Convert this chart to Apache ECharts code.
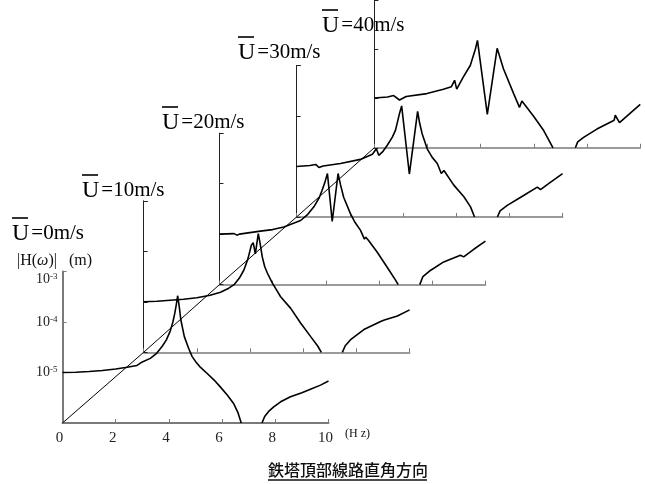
<!DOCTYPE html>
<html><head><meta charset="utf-8">
<script src="https://cdn.jsdelivr.net/npm/echarts@6/dist/echarts.min.js"></script>
<style>html,body{margin:0;padding:0;background:#fff}#c{width:645px;height:484px}</style>
</head><body><div id="c"></div><script>
// ---- data (frequency in Hz, log10 of |H(ω)| in m; '-' = below 10^-6, off the axis) ----
const windSpeeds = ['0m/s', '10m/s', '20m/s', '30m/s', '40m/s'];

const freqU0 = [0, 0.5, 1.0, 1.5, 2.0, 2.43, 2.8, 3.0, 3.3, 3.54, 3.75, 3.9, 4.05, 4.15, 4.22, 4.28, 4.33, 4.39, 4.45, 4.58, 4.74, 4.87, 5.0, 5.19, 5.44, 5.7, 5.94, 6.2, 6.44, 6.6, 6.72, 7.1, 7.5, 7.6, 7.75, 7.94, 8.2, 8.57, 9.0, 9.32, 9.7, 10.0];
const logHU0  = [-5.0, -4.995, -4.98, -4.96, -4.93, -4.895, -4.86, -4.79, -4.72, -4.62, -4.48, -4.36, -4.18, -4.0, -3.83, -3.65, -3.48, -3.7, -3.96, -4.29, -4.52, -4.68, -4.78, -4.9, -5.02, -5.15, -5.29, -5.45, -5.62, -5.8, -6.0, '-', -6.0, -5.87, -5.77, -5.68, -5.58, -5.48, -5.4, -5.33, -5.25, -5.17];

const freqU10 = [0, 0.5, 1.0, 1.5, 2.0, 2.5, 2.89, 3.2, 3.4, 3.6, 3.77, 3.92, 4.05, 4.12, 4.2, 4.31, 4.38, 4.46, 4.55, 4.65, 4.84, 5.0, 5.15, 5.53, 5.9, 6.28, 6.55, 6.68, 7.1, 7.47, 7.58, 7.78, 8.28, 8.91, 9.05, 9.12, 9.54, 10.0];
const logHU10  = [-5.0, -4.99, -4.97, -4.95, -4.92, -4.87, -4.81, -4.73, -4.66, -4.53, -4.37, -4.15, -3.88, -3.83, -4.05, -3.65, -3.85, -4.11, -4.3, -4.43, -4.63, -4.77, -4.9, -5.13, -5.42, -5.69, -5.88, -6.0, '-', -6.0, -5.87, -5.75, -5.55, -5.39, -5.36, -5.39, -5.28, -5.16];

const freqU20 = [0, 0.55, 0.6, 0.66, 0.75, 1.54, 2.0, 2.42, 3.05, 3.3, 3.55, 3.75, 3.86, 3.96, 4.06, 4.24, 4.46, 4.55, 4.67, 4.92, 5.1, 5.3, 5.45, 5.5, 5.6, 5.92, 6.3, 6.62, 6.72, 7.1, 7.53, 7.65, 7.93, 8.43, 9.06, 9.12, 9.18, 9.56, 10.0];
const logHU20  = [-5.0, -4.99, -4.98, -5.02, -5.0, -4.94, -4.91, -4.86, -4.73, -4.62, -4.46, -4.28, -4.13, -3.98, -3.8, -4.75, -3.8, -4.02, -4.27, -4.59, -4.77, -4.92, -5.1, -5.06, -5.12, -5.35, -5.65, -5.91, -6.0, '-', -6.0, -5.84, -5.72, -5.55, -5.42, -5.4, -5.45, -5.3, -5.14];

const freqU30 = [0, 0.5, 0.72, 0.84, 1.0, 1.65, 2.4, 2.85, 3.0, 3.09, 3.25, 3.41, 3.6, 3.72, 3.87, 3.95, 4.24, 4.55, 4.63, 4.72, 4.91, 5.1, 5.29, 5.44, 5.54, 5.91, 6.29, 6.54, 6.69, 7.1, 7.55, 7.65, 7.92, 8.55, 9.05, 9.1, 9.17, 9.5, 10.0];
const logHU30  = [-5.0, -4.98, -4.96, -5.02, -4.99, -4.94, -4.86, -4.76, -4.65, -4.78, -4.7, -4.58, -4.42, -4.28, -3.95, -3.8, -5.15, -3.91, -4.15, -4.35, -4.65, -4.82, -4.94, -5.14, -5.08, -5.37, -5.6, -5.8, -6.0, '-', -6.0, -5.88, -5.77, -5.57, -5.41, -5.38, -5.46, -5.33, -5.14];

const freqU40 = [0, 0.5, 0.73, 0.95, 1.2, 1.98, 2.6, 2.9, 3.02, 3.1, 3.35, 3.61, 3.8, 3.88, 4.25, 4.62, 4.86, 5.24, 5.46, 5.55, 5.99, 6.37, 6.72, 7.1, 7.56, 7.65, 7.87, 8.37, 9.02, 9.06, 9.22, 10.0];
const logHU40  = [-4.99, -4.97, -4.94, -5.03, -4.96, -4.9, -4.81, -4.76, -4.63, -4.81, -4.56, -4.33, -4.0, -3.82, -5.32, -3.98, -4.4, -4.9, -5.18, -5.05, -5.36, -5.65, -6.0, '-', -6.0, -5.88, -5.79, -5.62, -5.44, -5.34, -5.49, -5.12];

const freqSets = [freqU0, freqU10, freqU20, freqU30, freqU40];
const logHSets = [logHU0, logHU10, logHU20, logHU30, logHU40];

// offset of each panel's origin along the diagonal (in Hz and in decades of panel 0's scale)
const panelShiftHz  = [0, 3.05, 5.9, 8.8, 11.72];
const panelShiftDec = [0, 1.40, 2.74, 4.08, 5.45];

const xTickInterval = 2;
const yMin = 1e-6, yMax = 1e-3;

// ---- layout ----
const X0 = 62.5, Y0 = 423, PX_HZ = 26.6, PX_DEC = 50.5;
const PANEL_W = 10 * PX_HZ, PANEL_H = 3 * PX_DEC;
const SERIF = '"Liberation Serif", "DejaVu Serif", serif';
const AXIS_GRAY = '#7a7a7a';

const grids = [], xAxes = [], yAxes = [], series = [];
for (let k = 0; k < 5; k++) {
  const left = X0 + panelShiftHz[k] * PX_HZ;
  const bottom = Y0 - panelShiftDec[k] * PX_DEC;
  grids.push({ left: left, top: bottom - PANEL_H, width: PANEL_W, height: PANEL_H });
  xAxes.push({
    gridIndex: k, type: 'value', min: 0, max: 10, interval: xTickInterval,
    axisLine: { lineStyle: { color: AXIS_GRAY, width: k === 0 ? 2 : 1.6 } },
    axisTick: { inside: true, length: 4, lineStyle: { color: AXIS_GRAY, width: 1 } },
    axisLabel: k === 0 ? { show: true, color: '#222', fontFamily: SERIF, fontSize: 15, margin: 8, padding: [0, 6, 0, 0] } : { show: false },
    splitLine: { show: false }
  });
  yAxes.push({
    gridIndex: k, type: 'log', logBase: 10, min: yMin, max: yMax,
    axisLine: { show: true, lineStyle: { color: k === 0 ? AXIS_GRAY : '#222', width: k === 0 ? 2 : 1 } },
    axisTick: { show: true, inside: true, length: 4, lineStyle: { color: k === 0 ? AXIS_GRAY : '#222', width: 1 } },
    axisLabel: k === 0 ? {
      show: true, margin: 5, fontFamily: SERIF, fontSize: 14, color: '#222',
      formatter: function (v) {
        const e = Math.round(Math.log10(v));
        if (e <= -6) return '';
        if (e === -3) return '{bt|10}{st|' + e + '}';
        return '{b|10}{s|' + e + '}';
      },
      rich: {
        b: { fontFamily: SERIF, fontSize: 14, color: '#222', lineHeight: 14 },
        s: { fontFamily: SERIF, fontSize: 9, color: '#222', verticalAlign: 'top', lineHeight: 9, padding: [0, 0, 6, 0] },
        bt: { fontFamily: SERIF, fontSize: 14, color: '#222', lineHeight: 14, padding: [16, 0, 0, 0] },
        st: { fontFamily: SERIF, fontSize: 9, color: '#222', lineHeight: 9, padding: [10, 0, 0, 0] }
      }
    } : { show: false },
    splitLine: { show: false }
  });
  const data = freqSets[k].map((f, i) => {
    const v = logHSets[k][i];
    return [f, v === '-' ? '-' : Math.pow(10, v)];
  });
  series.push({
    type: 'line', xAxisIndex: k, yAxisIndex: k, data: data,
    showSymbol: false, symbol: 'none', clip: true, connectNulls: false,
    lineStyle: { color: '#000', width: 1.6 }, z: 3
  });
}
// diagonal line joining panel origins
grids.push({ left: X0, top: Y0 - panelShiftDec[4] * PX_DEC, width: panelShiftHz[4] * PX_HZ, height: panelShiftDec[4] * PX_DEC });
xAxes.push({ gridIndex: 5, type: 'value', min: 0, max: panelShiftHz[4], show: false });
yAxes.push({ gridIndex: 5, type: 'value', min: 0, max: panelShiftDec[4], show: false });
series.push({
  type: 'line', xAxisIndex: 5, yAxisIndex: 5,
  data: panelShiftHz.map((h, i) => [h, panelShiftDec[i]]),
  showSymbol: false, symbol: 'none', lineStyle: { color: '#000', width: 1 }, z: 2
});

// ---- text labels ----
const labelPos = [[12, 212], [82, 169], [162, 101], [238, 31], [322, 4]];
const graphics = labelPos.map((p, k) => ({
  type: 'text', left: p[0], top: p[1],
  style: {
    text: '{ov|}\n{t|U}{r|=' + windSpeeds[k] + '}',
    rich: {
      ov: { width: 16, height: 1.6, backgroundColor: '#000', lineHeight: 9 },
      t: { fontFamily: SERIF, fontSize: 24, fill: '#000', lineHeight: 22 },
      r: { fontFamily: SERIF, fontSize: 21, fill: '#000', lineHeight: 22, padding: [0, 0, 0, 2] }
    }
  }
}));
graphics.push({
  type: 'text', left: 17, top: 253,
  style: {
    text: '|H({w|ω})|   (m)',
    font: '16px "Liberation Serif", serif', fill: '#111',
    rich: { w: { fontFamily: SERIF, fontStyle: 'italic', fontSize: 16, fill: '#111' } }
  }
});
graphics.push({
  type: 'text', left: 345, top: 428,
  style: { text: '(H z)', font: '12px "Liberation Serif", serif', fill: '#111' }
});
graphics.push({
  type: 'text', left: 268, top: 462,
  style: {
    text: '{t|鉄塔頂部線路直角方向}\n{u|}',
    rich: {
      t: { fontFamily: '"Noto Sans CJK JP", sans-serif', fontSize: 16, fontWeight: 500, fill: '#111', lineHeight: 17 },
      u: { width: 159, height: 1.5, backgroundColor: '#111', lineHeight: 3 }
    }
  }
});

const chart = echarts.init(document.getElementById('c'), null, { renderer: 'canvas' });
chart.setOption({
  animation: false,
  backgroundColor: '#fff',
  grid: grids, xAxis: xAxes, yAxis: yAxes, series: series,
  graphic: graphics
});
</script></body></html>
